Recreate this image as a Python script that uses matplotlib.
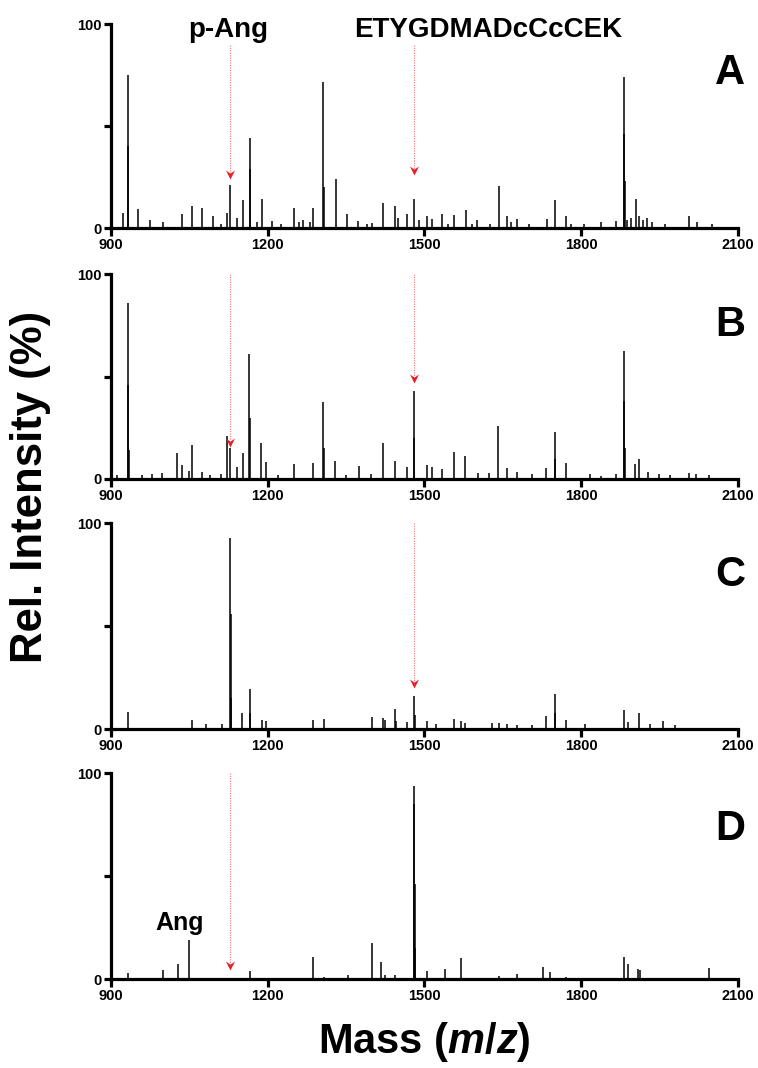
import matplotlib
matplotlib.use('Agg')
import matplotlib.pyplot as plt
import numpy as np
from matplotlib.path import Path

plt.rcParams['font.family'] = ['Liberation Sans', 'DejaVu Sans']
plt.rcParams['font.weight'] = 'bold'
plt.rcParams['mathtext.fontset'] = 'custom'
plt.rcParams['mathtext.it'] = 'Liberation Sans:italic:bold'
plt.rcParams['mathtext.rm'] = 'Liberation Sans:bold'

# ---------------- data (m/z, relative intensity %) ----------------
peaks_A = [(923, 7.6), (932, 75), (933, 40), (951, 9.5), (975, 4), (1000, 3), (1036, 6.8),
           (1056, 11), (1075, 9.7), (1096, 6), (1110, 2), (1123, 7.6), (1127, 21), (1142, 5),
           (1152, 13.5), (1166, 44), (1167, 29), (1180, 3), (1189, 14), (1208, 3.5), (1225, 2),
           (1251, 9.7), (1260, 3), (1268, 4), (1280, 3), (1287, 10), (1306, 71.5), (1307, 20),
           (1330, 24), (1351, 6.8), (1373, 3.5), (1390, 2), (1400, 2.5), (1421, 12.5), (1443, 11),
           (1450, 5), (1466, 6.8), (1479, 14.4), (1490, 4), (1504, 5.7), (1515, 4.4), (1534, 6.8),
           (1545, 2), (1557, 6.5), (1579, 9), (1590, 2), (1601, 4), (1625, 2), (1643, 20.6),
           (1658, 6), (1665, 3), (1677, 4.4), (1700, 2), (1735, 4.4), (1749, 13.8), (1770, 5.7),
           (1780, 2), (1805, 2), (1838, 3), (1867, 3.5), (1881, 74), (1882, 46), (1883, 23),
           (1888, 4), (1895, 5), (1904, 14), (1911, 6), (1918, 4), (1925, 5), (1935, 3),
           (1960, 2), (2007, 6), (2022, 3), (2050, 2)]

peaks_B = [(912, 2), (932, 86), (933, 46), (934, 14), (960, 2), (978, 2.4), (998, 3),
           (1027, 12.5), (1036, 6.8), (1049, 4), (1056, 16.6), (1075, 3.5), (1090, 2),
           (1110, 2.4), (1122, 21), (1128, 15), (1142, 6), (1152, 12.8), (1165, 61), (1166, 30),
           (1187, 17.7), (1196, 8.5), (1220, 2), (1251, 7.3), (1287, 8), (1306, 37.4),
           (1307, 15), (1329, 8.8), (1350, 2), (1374, 6.3), (1397, 2.4), (1421, 17.4),
           (1443, 9), (1466, 6), (1479, 43), (1480, 20), (1504, 7), (1515, 5.7), (1534, 4.7),
           (1556, 13.3), (1577, 11), (1603, 2.8), (1624, 3), (1641, 26), (1658, 5.2),
           (1677, 3.6), (1706, 2.4), (1732, 5.2), (1749, 23), (1750, 10), (1770, 7.6),
           (1817, 2.4), (1838, 1.6), (1867, 2.4), (1881, 62.6), (1882, 38), (1883, 15),
           (1902, 7.3), (1911, 10), (1928, 3.6), (1949, 2.4), (1969, 2), (2006, 3),
           (2020, 2.4), (2045, 2)]

peaks_C = [(932, 8.3), (1056, 4.4), (1081, 2.4), (1113, 2.3), (1128, 93), (1129, 56),
           (1130, 15), (1151, 7.6), (1166, 19.3), (1167, 8), (1189, 4.4), (1196, 3.9),
           (1287, 4.4), (1308, 4.7), (1400, 5.7), (1421, 5.2), (1424, 4.4), (1444, 9.6),
           (1445, 4), (1466, 3.6), (1480, 16.2), (1481, 7), (1504, 4), (1523, 2.4),
           (1557, 4.7), (1569, 4), (1577, 3), (1630, 2.8), (1643, 2.8), (1658, 2.4),
           (1677, 2), (1706, 2), (1733, 6.3), (1749, 17), (1750, 8), (1770, 4.4),
           (1808, 2.4), (1881, 9.2), (1890, 3.6), (1911, 7.6), (1932, 2.4), (1956, 4),
           (1979, 2)]

peaks_D = [(932, 3), (1000, 4.4), (1028, 7.5), (1049, 19), (1166, 4), (1287, 10.9),
           (1308, 1.2), (1353, 1.8), (1400, 17.3), (1417, 8.4), (1424, 2), (1443, 1.8),
           (1479, 94), (1480, 85), (1481, 46), (1482, 15), (1504, 3.9), (1539, 4.7),
           (1569, 10), (1643, 1.5), (1678, 2.3), (1726, 5.7), (1741, 3.6), (1770, 0.8),
           (1881, 10.5), (1890, 7.3), (1909, 5), (1912, 4.4), (2045, 5.2)]

panel_labels = ['A', 'B', 'C', 'D']
x_ticks = [900, 1200, 1500, 1800, 2100]
y_ticks = [0, 50, 100]
y_ticklabels = ['0', '', '100']

# marked ions: (m/z position, dotted line top %, arrow tip %)
PANG_MZ = 1127
ETYG_MZ = 1479
arrows_A = [(PANG_MZ, 89.5, 23.8), (ETYG_MZ, 89.5, 26)]
arrows_B = [(PANG_MZ, 100, 15.8), (ETYG_MZ, 100, 47)]
arrows_C = [(ETYG_MZ, 100, 19.8)]
arrows_D = [(PANG_MZ, 100, 4.4)]

all_peaks = [peaks_A, peaks_B, peaks_C, peaks_D]
all_arrows = [arrows_A, arrows_B, arrows_C, arrows_D]

# ---------------- figure ----------------
fig = plt.figure(figsize=(7.58, 10.68), dpi=100)
positions = [(0.1464, 0.7865, 0.8272, 0.1910),
             (0.1464, 0.5515, 0.8272, 0.1919),
             (0.1464, 0.3174, 0.8272, 0.1926),
             (0.1464, 0.0833, 0.8272, 0.1926)]

chevron = Path([(0, 0), (-0.5, 1.0), (0, 0.65), (0.5, 1.0), (0, 0)],
               [Path.MOVETO, Path.LINETO, Path.LINETO, Path.LINETO, Path.CLOSEPOLY])

label_y = [76, 75, 75, 73]

for i, (pos, peaks, arrows) in enumerate(zip(positions, all_peaks, all_arrows)):
    ax = fig.add_axes(pos)
    mz = np.array([p[0] for p in peaks], dtype=float)
    inten = np.array([p[1] for p in peaks], dtype=float)
    ax.vlines(mz, 0, inten, color='black', lw=1.1, zorder=2)
    ax.set_xlim(900, 2100)
    ax.set_ylim(0, 100)
    for s in ['top', 'right']:
        ax.spines[s].set_visible(False)
    for s in ['left', 'bottom']:
        ax.spines[s].set_linewidth(2.3)
        ax.spines[s].set_zorder(3)
    ax.set_xticks(x_ticks)
    ax.set_xticklabels([str(t) for t in x_ticks])
    ax.set_yticks(y_ticks)
    ax.set_yticklabels(y_ticklabels)
    ax.tick_params(axis='both', direction='out', width=2.3, length=5, labelsize=10.5, pad=1.5)
    ax.tick_params(axis='x', length=6)

    for (x, top, tip) in arrows:
        ax.plot([x, x], [top, tip + 3], linestyle=(0, (1, 1.2)), color='#f07070', lw=0.8, zorder=1)
        ax.plot([x], [tip], marker=chevron, markersize=13, color='#e8202a',
                markeredgewidth=0, linestyle='none', zorder=4, clip_on=False)

    ax.text(2085, label_y[i], panel_labels[i], fontsize=30, ha='center', va='center')

    if i == 0:
        ax.text(PANG_MZ - 3, 97, 'p-Ang', fontsize=20, ha='center', va='center')
        ax.text(1621, 97, 'ETYGDMADcCcCEK', fontsize=20, ha='center', va='center')
    if i == 3:
        ax.text(1032, 27, 'Ang', fontsize=18, ha='center', va='center')

fig.text(0.04, 0.544, 'Rel. Intensity (%)', rotation=90, fontsize=31.5,
         ha='center', va='center')
fig.text(0.56, 0.004, r'Mass ($\mathit{m/z}$)', fontsize=30, ha='center', va='bottom')

fig.savefig('out.png', dpi=100)
